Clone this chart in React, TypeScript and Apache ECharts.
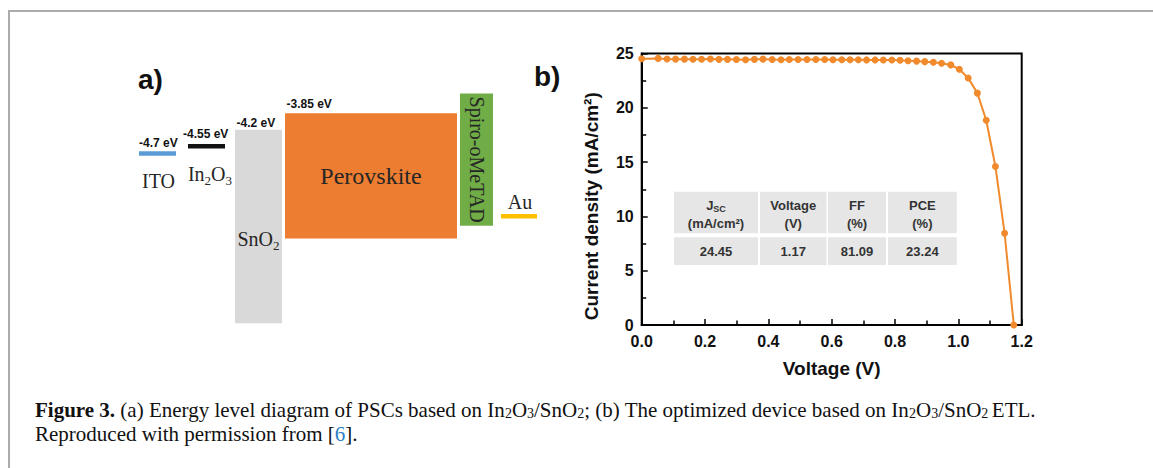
import { useEffect, useRef } from 'react';
import * as echarts from 'echarts';

// ---------------- Panel (b): J–V curve ----------------
const voltage = [
  0.0, 0.052, 0.08, 0.107, 0.135, 0.162, 0.189, 0.217, 0.244, 0.271,
  0.299, 0.328, 0.356, 0.383, 0.412, 0.44, 0.466, 0.494, 0.522, 0.55,
  0.578, 0.604, 0.632, 0.658, 0.684, 0.71, 0.737, 0.763, 0.79, 0.816,
  0.841, 0.868, 0.894, 0.921, 0.947, 0.976, 1.003, 1.031, 1.06, 1.088,
  1.117, 1.146, 1.175,
];
const currentDensity = [
  24.52, 24.55, 24.5, 24.48, 24.48, 24.47, 24.47, 24.5, 24.46, 24.46,
  24.44, 24.42, 24.46, 24.48, 24.45, 24.43, 24.45, 24.45, 24.44, 24.44,
  24.44, 24.43, 24.43, 24.42, 24.42, 24.41, 24.41, 24.4, 24.4, 24.38,
  24.34, 24.3, 24.25, 24.19, 24.1, 23.95, 23.55, 22.75, 21.35, 18.85,
  14.6, 8.45, 0.0,
];
const xAxisRange = [0, 1.2];
const xAxisStep = 0.2;
const yAxisRange = [0, 25];
const yAxisStep = 5;
const xAxisTitle = 'Voltage (V)';
const yAxisTitle = 'Current density (mA/cm²)';

// ---------------- Panel (b): inset table ----------------
const tableHeads = ['J', 'Voltage', 'FF', 'PCE'];
const tableHeadSubs = ['SC', '', '', ''];
const tableUnits = ['(mA/cm²)', '(V)', '(%)', '(%)'];
const tableValues = ['24.45', '1.17', '81.09', '23.24'];

// ---------------- Panel (a): energy levels (eV, on the picture's schematic scale) ----------------
const layerNames = ['ITO', 'In2O3', 'SnO2', 'Perovskite', 'Spiro-oMeTAD', 'Au'];
const levelTop = [-4.7, -4.55, -4.2, -3.85, -3.43, -6.03];
const levelBottom = [-4.7, -4.55, -8.3, -6.5, -6.23, -6.03];
const levelLabelled = [true, true, true, true, false, false];
const energyRange = [-8.4, -3.4];

// ---------------- Caption ----------------
const captionLine1 =
  '{b|Figure 3. }{n|(a) Energy level diagram of PSCs based on In}{s|2}{n|O}{s|3}{n|/SnO}{s|2}{n|; (b) The optimized device based on In}{s|2}{n|O}{s|3}{n|/SnO}{s|2 }{n|ETL.}';
const captionLine2 = '{n|Reproduced with permission from [}{l|6}{n|].}';

// ---------------- Layout & styles ----------------
const FONT_SANS = 'Arial, "Liberation Sans", Helvetica, sans-serif';
const FONT_SERIF = '"Liberation Serif", "Times New Roman", Times, serif';
const CURVE_COLOR = '#F08A2C';
const layerColors = ['#5B9BD5', '#111111', '#D9D9D9', '#ED7D31', '#70AD47', '#FFC000'];
const layerX0 = [2, 51, 98, 148, 323, 364];
const layerX1 = [39, 88, 145, 320, 356, 400];
const LEVEL_THICKNESS = 4.5;
const nameDx = [1, 3.5, 0, 0, 0.5, 1];
const nameDy = [28, 28, 12.5, 0, 0, -14.5];
const nameSize = [20, 20, 20, 24, 20, 20];
const nameRotate = [0, 0, 0, 0, -90, 0];
const labelDx = [0, -5, 1.5, 1.5, 0, 0];
const labelDy = [-2.7, -4.3, -0.6, -3.1, 0, 0];

const tableColLeft = [674, 760, 828, 888];
const tableColRight = [758, 826.5, 886, 956.7];
const tableHeadRow = [191.7, 233.3];
const tableBodyRow = [237.3, 265];
const TABLE_BG = '#E6E6E6';
const TABLE_TEXT = '#333333';

const toRich = (s: string) =>
  s
    .split(/(\d)/)
    .filter((t) => t.length > 0)
    .map((t) => (/^\d$/.test(t) ? `{s|${t}}` : `{n|${t}}`))
    .join('');

function buildOption() {
  const layerData = layerNames.map((_, i) => [layerX0[i], layerX1[i], levelTop[i], levelBottom[i]]);

  const renderLayer = (params: any, api: any) => {
    const i = params.dataIndex;
    const pTop = api.coord([api.value(0), api.value(2)]);
    const pBot = api.coord([api.value(1), api.value(3)]);
    const isLevel = api.value(2) === api.value(3);
    const x = pTop[0];
    const w = pBot[0] - pTop[0];
    const y = isLevel ? pTop[1] - LEVEL_THICKNESS / 2 : pTop[1];
    const h = isLevel ? LEVEL_THICKNESS : pBot[1] - pTop[1];
    const cx = x + w / 2;
    const cy = y + h / 2;
    const children: any[] = [
      { type: 'rect', shape: { x, y, width: w, height: h }, style: { fill: layerColors[i] } },
      {
        type: 'text',
        x: cx + nameDx[i],
        y: cy + nameDy[i],
        rotation: (nameRotate[i] * Math.PI) / 180,
        style: {
          text: toRich(layerNames[i]),
          align: 'center',
          verticalAlign: 'middle',
          textAlign: 'center',
          textVerticalAlign: 'middle',
          rich: {
            n: { fontSize: nameSize[i], fontFamily: FONT_SERIF, fill: '#262626', lineHeight: 26 },
            s: { fontSize: 13, fontFamily: FONT_SERIF, fill: '#262626', lineHeight: 12, verticalAlign: 'bottom' },
          },
        },
      },
    ];
    if (levelLabelled[i]) {
      children.push({
        type: 'text',
        x: x + labelDx[i],
        y: y + labelDy[i],
        style: {
          text: `${levelTop[i]} eV`,
          fontSize: 12,
          fontWeight: 'bold',
          fontFamily: FONT_SANS,
          fill: '#111',
          align: 'left',
          verticalAlign: 'bottom',
          textAlign: 'left',
          textVerticalAlign: 'bottom',
        },
      });
    }
    return { type: 'group', children };
  };

  const tableChildren: any[] = [];
  tableColLeft.forEach((l, i) => {
    const r = tableColRight[i];
    const c = (l + r) / 2;
    tableChildren.push(
      { type: 'rect', shape: { x: l, y: tableHeadRow[0], width: r - l, height: tableHeadRow[1] - tableHeadRow[0] }, style: { fill: TABLE_BG } },
      { type: 'rect', shape: { x: l, y: tableBodyRow[0], width: r - l, height: tableBodyRow[1] - tableBodyRow[0] }, style: { fill: TABLE_BG } },
      {
        type: 'text',
        x: c,
        y: 205,
        style: {
          text: tableHeadSubs[i] ? `{h|${tableHeads[i]}}{hs|${tableHeadSubs[i]}}` : `{h|${tableHeads[i]}}`,
          align: 'center',
          verticalAlign: 'middle',
          textAlign: 'center',
          textVerticalAlign: 'middle',
          rich: {
            h: { fontSize: 13, fontWeight: 'bold', fontFamily: FONT_SANS, fill: TABLE_TEXT, lineHeight: 16 },
            hs: { fontSize: 9, fontWeight: 'bold', fontFamily: FONT_SANS, fill: TABLE_TEXT, lineHeight: 9, verticalAlign: 'bottom' },
          },
        },
      },
      {
        type: 'text',
        x: c,
        y: 223.3,
        style: {
          text: tableUnits[i], fontSize: 13, fontWeight: 'bold', fontFamily: FONT_SANS, fill: TABLE_TEXT,
          align: 'center', verticalAlign: 'middle', textAlign: 'center', textVerticalAlign: 'middle',
        },
      },
      {
        type: 'text',
        x: c,
        y: 251,
        style: {
          text: tableValues[i], fontSize: 13, fontWeight: 'bold', fontFamily: FONT_SANS, fill: TABLE_TEXT,
          align: 'center', verticalAlign: 'middle', textAlign: 'center', textVerticalAlign: 'middle',
        },
      }
    );
  });

  const captionRich = {
    b: { fontSize: 21, fontWeight: 'bold', fontFamily: FONT_SERIF, fill: '#111', lineHeight: 22 },
    n: { fontSize: 21, fontFamily: FONT_SERIF, fill: '#111', lineHeight: 22 },
    s: { fontSize: 14, fontFamily: FONT_SERIF, fill: '#111', lineHeight: 10, verticalAlign: 'bottom' },
    l: { fontSize: 21, fontFamily: FONT_SERIF, fill: '#2A7FC4', lineHeight: 22 },
  };

  const axisLabelStyle = {
    color: '#111',
    fontWeight: 'bold',
    fontSize: 16,
    fontFamily: FONT_SANS,
    margin: 8,
  };

  return {
    animation: false,
    backgroundColor: '#ffffff',
    grid: [
      { left: 641.7, top: 53.5, width: 380, height: 271.5, show: true, borderColor: '#000', borderWidth: 2, backgroundColor: 'transparent' },
      { left: 137, top: 92.09, width: 402, height: 236, show: false },
    ],
    xAxis: [
      {
        gridIndex: 0,
        type: 'value',
        min: xAxisRange[0],
        max: xAxisRange[1],
        interval: xAxisStep,
        axisLine: { show: true, onZero: false, lineStyle: { color: '#000', width: 2 } },
        axisTick: { show: true, inside: true, length: 6, lineStyle: { color: '#000', width: 1.5 } },
        minorTick: { show: true, splitNumber: 2, length: 4.5, lineStyle: { color: '#000', width: 1.5 } },
        splitLine: { show: false },
        axisLabel: { ...axisLabelStyle, formatter: (v: number) => v.toFixed(1) },
        name: xAxisTitle,
        nameLocation: 'middle',
        nameGap: 34,
        nameTextStyle: { color: '#111', fontWeight: 'bold', fontSize: 19, fontFamily: FONT_SANS },
      },
      { gridIndex: 1, type: 'value', min: 0, max: 402, show: false },
    ],
    yAxis: [
      {
        gridIndex: 0,
        type: 'value',
        min: yAxisRange[0],
        max: yAxisRange[1],
        interval: yAxisStep,
        axisLine: { show: true, onZero: false, lineStyle: { color: '#000', width: 2 } },
        axisTick: { show: true, inside: true, length: 6, lineStyle: { color: '#000', width: 1.5 } },
        minorTick: { show: true, splitNumber: 2, length: 4.5, lineStyle: { color: '#000', width: 1.5 } },
        splitLine: { show: false },
        axisLabel: { ...axisLabelStyle },
        name: yAxisTitle,
        nameLocation: 'middle',
        nameGap: 41,
        nameTextStyle: { color: '#111', fontWeight: 'bold', fontSize: 19, fontFamily: FONT_SANS, padding: [0, 34, 0, 0] },
      },
      { gridIndex: 1, type: 'value', min: energyRange[0], max: energyRange[1], show: false },
    ],
    series: [
      {
        type: 'line',
        xAxisIndex: 0,
        yAxisIndex: 0,
        data: voltage.map((v, i) => [v, currentDensity[i]]),
        symbol: 'circle',
        symbolSize: 7,
        showSymbol: true,
        clip: false,
        itemStyle: { color: CURVE_COLOR },
        lineStyle: { color: CURVE_COLOR, width: 2 },
        z: 5,
      },
      {
        type: 'custom',
        xAxisIndex: 1,
        yAxisIndex: 1,
        data: layerData,
        encode: { x: [0, 1], y: [2, 3] },
        renderItem: renderLayer,
        silent: true,
        clip: false,
      },
    ],
    graphic: [
      {
        type: 'rect',
        silent: true,
        shape: { x: 9, y: 11, width: 1200, height: 500 },
        style: { fill: 'none', stroke: '#ABABAB', lineWidth: 2 },
      },
      {
        type: 'text',
        x: 138,
        y: 79,
        style: { text: 'a)', fontSize: 28, fontWeight: 'bold', fontFamily: FONT_SANS, fill: '#111', align: 'left', verticalAlign: 'middle', textAlign: 'left', textVerticalAlign: 'middle' },
      },
      {
        type: 'text',
        x: 534,
        y: 76,
        style: { text: 'b)', fontSize: 28, fontWeight: 'bold', fontFamily: FONT_SANS, fill: '#111', align: 'left', verticalAlign: 'middle', textAlign: 'left', textVerticalAlign: 'middle' },
      },
      { type: 'group', silent: true, children: tableChildren },
      {
        type: 'text',
        x: 35,
        y: 409.9,
        style: { text: captionLine1, rich: captionRich, align: 'left', verticalAlign: 'middle', textAlign: 'left', textVerticalAlign: 'middle' },
      },
      {
        type: 'text',
        x: 35,
        y: 433.6,
        style: { text: captionLine2, rich: captionRich, align: 'left', verticalAlign: 'middle', textAlign: 'left', textVerticalAlign: 'middle' },
      },
    ],
  };
}

export default function App() {
  const ref = useRef<HTMLDivElement>(null);
  useEffect(() => {
    if (!ref.current) return;
    const chart = echarts.init(ref.current, null, { renderer: 'svg' });
    chart.setOption(buildOption() as any);
    return () => chart.dispose();
  }, []);
  return (
    <div
      ref={ref}
      style={{ position: 'fixed', left: 0, top: 0, width: 1153, height: 468, background: '#ffffff' }}
    />
  );
}
